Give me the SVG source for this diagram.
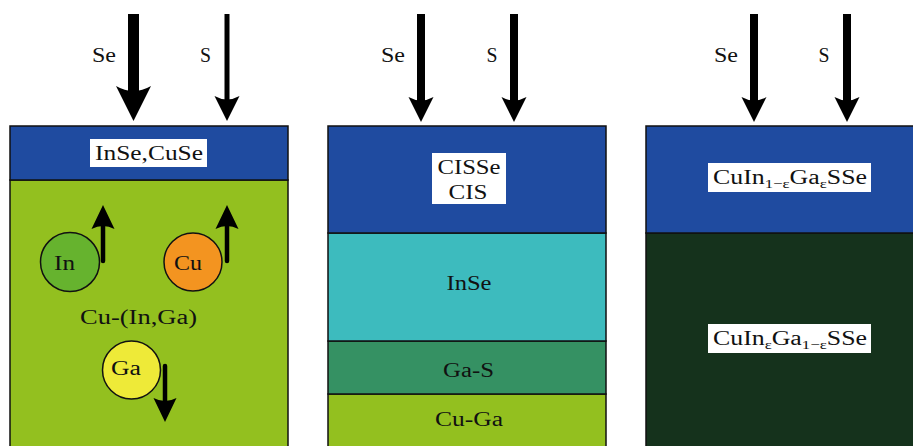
<svg xmlns="http://www.w3.org/2000/svg" width="913" height="446" viewBox="0 0 913 446" font-family="'Liberation Serif', 'DejaVu Serif', serif">
<style>
text{font-family:'Liberation Serif','DejaVu Serif',serif;font-size:20px;fill:#111;text-anchor:middle}
.sub{font-size:13px}
.ly{stroke:#111;stroke-width:1.5}
.lbl{fill:#fff}
.arr{fill:#000}
.circ{stroke:#111;stroke-width:1.5}
</style>
<rect width="913" height="446" fill="#fff"/>
<g id="panel1">
  <rect class="ly" x="10" y="180" width="278" height="280" fill="#93c01f"/>
  <rect class="ly" x="10" y="126" width="278" height="54" fill="#1f4ba0"/>
  <rect class="lbl" x="90" y="139" width="117" height="28"/>
  <text x="149" y="160" textLength="108" lengthAdjust="spacingAndGlyphs">InSe,CuSe</text>
  <text x="138.5" y="324" textLength="117" lengthAdjust="spacingAndGlyphs">Cu-(In,Ga)</text>
</g>
<g id="In">
  <circle class="circ" cx="70" cy="262" r="29.5" fill="#66b32e"/>
  <text x="64.5" y="270" textLength="21" lengthAdjust="spacingAndGlyphs">In</text>
</g>
<g id="Cu">
  <circle class="circ" cx="193" cy="262" r="29" fill="#f39420"/>
  <text x="188" y="270" textLength="28" lengthAdjust="spacingAndGlyphs">Cu</text>
</g>
<g id="Ga">
  <circle class="circ" cx="131.5" cy="370" r="29" fill="#eeea38"/>
  <text x="126" y="375" textLength="30" lengthAdjust="spacingAndGlyphs">Ga</text>
</g>
<g id="panel2">
  <rect class="ly" x="328" y="394" width="278" height="60" fill="#93c01f"/>
  <rect class="ly" x="328" y="341" width="278" height="53" fill="#359163"/>
  <rect class="ly" x="328" y="233" width="278" height="108" fill="#3dbbbe"/>
  <rect class="ly" x="328" y="126" width="278" height="107" fill="#1f4ba0"/>
  <rect class="lbl" x="432" y="153" width="74" height="51"/>
  <text x="469" y="174" textLength="63" lengthAdjust="spacingAndGlyphs">CISSe</text>
  <text x="468" y="199" textLength="39" lengthAdjust="spacingAndGlyphs">CIS</text>
  <text x="469" y="290" textLength="45" lengthAdjust="spacingAndGlyphs">InSe</text>
  <text x="468.5" y="377" textLength="51" lengthAdjust="spacingAndGlyphs">Ga-S</text>
  <text x="469" y="426" textLength="68" lengthAdjust="spacingAndGlyphs">Cu-Ga</text>
</g>
<g id="panel3">
  <rect class="ly" x="646" y="233" width="280" height="220" fill="#15321c"/>
  <rect class="ly" x="646" y="126" width="280" height="107" fill="#1f4ba0"/>
  <rect class="lbl" x="708" y="163" width="163" height="29"/>
  <text x="790" y="184" textLength="154" lengthAdjust="spacingAndGlyphs">CuIn<tspan class="sub" dy="4">1−ε</tspan><tspan dy="-4">Ga</tspan><tspan class="sub" dy="4">ε</tspan><tspan dy="-4">SSe</tspan></text>
  <rect class="lbl" x="708" y="324" width="163" height="29"/>
  <text x="790" y="345" textLength="154" lengthAdjust="spacingAndGlyphs">CuIn<tspan class="sub" dy="4">ε</tspan><tspan dy="-4">Ga</tspan><tspan class="sub" dy="4">1−ε</tspan><tspan dy="-4">SSe</tspan></text>
</g>
<g id="flux-labels">
  <text x="104" y="62" textLength="24" lengthAdjust="spacingAndGlyphs">Se</text>
  <text x="205.5" y="62" textLength="11" lengthAdjust="spacingAndGlyphs">S</text>
  <text x="393" y="62" textLength="24" lengthAdjust="spacingAndGlyphs">Se</text>
  <text x="492" y="62" textLength="11" lengthAdjust="spacingAndGlyphs">S</text>
  <text x="726" y="62" textLength="24" lengthAdjust="spacingAndGlyphs">Se</text>
  <text x="824" y="62" textLength="11" lengthAdjust="spacingAndGlyphs">S</text>
</g>
<g id="connectors" class="arr">
  <rect x="128" y="14" width="11" height="80"/>
  <path d="M116,86 L133.5,121 L151,86 Q133.5,96 116,86 Z"/>
  <rect x="224.5" y="14" width="5" height="90"/>
  <path d="M214.5,96 L227,121 L239.5,96 Q227,103 214.5,96 Z"/>
  <rect x="417" y="14" width="8" height="90"/>
  <path d="M408.5,97 L421,122 L433.5,97 Q421,104 408.5,97 Z"/>
  <rect x="510" y="14" width="8" height="90"/>
  <path d="M501.5,97 L514,122 L526.5,97 Q514,104 501.5,97 Z"/>
  <rect x="750" y="14" width="8" height="90"/>
  <path d="M741.5,97 L754,122 L766.5,97 Q754,104 741.5,97 Z"/>
  <rect x="843" y="14" width="8" height="90"/>
  <path d="M834.5,97 L847,122 L859.5,97 Q847,104 834.5,97 Z"/>
  <line x1="103" y1="261" x2="103" y2="222" stroke="#000" stroke-width="4.5" stroke-linecap="round"/>
  <path d="M91.5,229 L103,205 L114.5,229 Q103,223 91.5,229 Z"/>
  <line x1="227" y1="261" x2="227" y2="222" stroke="#000" stroke-width="4.5" stroke-linecap="round"/>
  <path d="M215.5,229 L227,205 L238.5,229 Q227,223 215.5,229 Z"/>
  <line x1="165" y1="366" x2="165" y2="405" stroke="#000" stroke-width="4.5" stroke-linecap="round"/>
  <path d="M153.5,398 L165,422 L176.5,398 Q165,404 153.5,398 Z"/>
</g>
</svg>
